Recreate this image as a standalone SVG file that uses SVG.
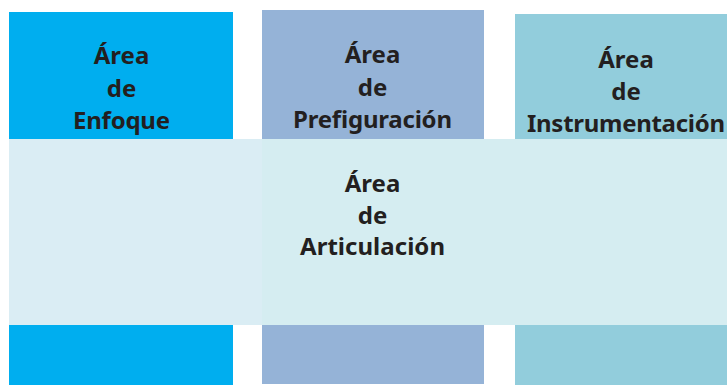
<svg xmlns="http://www.w3.org/2000/svg" width="727" height="385" viewBox="0 0 727 385">
  <style>
    .t { font-family: "Noto Sans", "Open Sans", sans-serif; font-weight: bold; font-size: 24px; fill: #231F20; text-anchor: middle; }
  </style>
  <rect width="727" height="385" fill="#FFFFFF"/>
  <g id="enfoque">
    <rect x="9" y="12" width="224" height="373" fill="#00AEEF"/>
  </g>
  <g id="prefiguracion">
    <rect x="262" y="10" width="222" height="374" fill="#95B3D7"/>
  </g>
  <g id="instrumentacion">
    <rect x="515" y="14" width="212" height="371" fill="#92CDDC"/>
  </g>
  <g id="articulacion">
    <rect x="9" y="139" width="253" height="186" fill="#DAEDF4"/>
    <rect x="262" y="139" width="465" height="186" fill="#D5EDF1"/>
    <text class="t" x="372.5" y="192">Área</text>
    <text class="t" x="372.5" y="223.5">de</text>
    <text class="t" x="372.5" y="255" textLength="145">Articulación</text>
  </g>
  <g id="labels">
    <text class="t" x="121.5" y="64">Área</text>
    <text class="t" x="121.5" y="96.5">de</text>
    <text class="t" x="121.5" y="128.5" textLength="97">Enfoque</text>
    <text class="t" x="372.5" y="63">Área</text>
    <text class="t" x="372.5" y="95.5">de</text>
    <text class="t" x="372.5" y="128" textLength="159">Prefiguración</text>
    <text class="t" x="626" y="68">Área</text>
    <text class="t" x="626" y="100">de</text>
    <text class="t" x="626" y="132" textLength="198">Instrumentación</text>
  </g>
  <g id="connectors"></g>
</svg>
